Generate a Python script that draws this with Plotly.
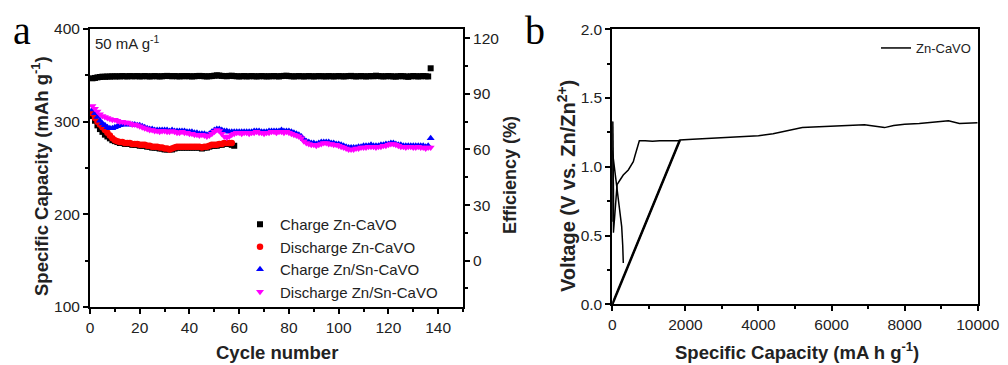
import plotly.graph_objects as go

# ---------------- Panel a data ----------------
cycles_charge_zn = list(range(1, 59))
charge_zn = [306, 301, 296, 292, 289, 286, 284, 282, 280, 279,
             278, 277, 277, 276, 276, 276, 275, 275, 275, 274,
             274, 274, 273, 273, 272, 272, 272, 271, 271, 270,
             270, 270, 270, 271, 272, 272, 272, 272, 272, 272,
             272, 272, 272, 272, 271, 272, 272, 273, 274, 274,
             274, 275, 275, 276, 276, 276, 275, 274]

cycles_discharge_zn = list(range(1, 58))
discharge_zn = [309, 304, 300, 297, 294, 291, 288, 285, 282, 280,
                279, 278, 278, 277, 277, 277, 276, 276, 276, 275,
                275, 275, 274, 274, 273, 273, 273, 272, 272, 271,
                271, 270, 271, 272, 273, 273, 273, 273, 273, 273,
                273, 273, 273, 273, 272, 273, 273, 274, 275, 275,
                275, 276, 276, 277, 277, 277, 277]

cycles_znsn = list(range(1, 138))
charge_znsn = [313, 309, 305, 301, 298, 296, 294, 293, 293, 294,
               295, 296, 297, 297, 297, 297, 297, 297, 296, 296,
               295, 294, 293, 292, 292, 291, 291, 291, 291, 291,
               291, 290, 291, 290, 290, 290, 290, 290, 289, 289,
               289, 288, 288, 287, 287, 287, 286, 287, 289, 291,
               292, 292, 291, 290, 290, 289, 289, 289, 289, 289,
               289, 289, 289, 289, 289, 290, 290, 290, 289, 289,
               289, 290, 290, 290, 290, 290, 291, 290, 290, 290,
               289, 288, 287, 286, 284, 281, 279, 278, 277, 277,
               276, 277, 278, 278, 278, 278, 277, 277, 276, 276,
               275, 274, 273, 272, 272, 272, 272, 273, 273, 274,
               274, 274, 275, 274, 274, 274, 275, 275, 276, 276,
               277, 277, 276, 275, 275, 274, 274, 274, 274, 274,
               274, 274, 274, 274, 273, 274, 282]

discharge_znsn = [317, 314, 311, 308, 306, 305, 304, 303, 302, 302,
                  301, 300, 300, 299, 299, 298, 297, 297, 296, 295,
                  294, 293, 292, 291, 291, 290, 290, 289, 290, 290,
                  289, 289, 290, 289, 288, 288, 289, 288, 288, 287,
                  287, 286, 286, 285, 286, 285, 284, 285, 287, 289,
                  291, 290, 287, 284, 283, 284, 286, 287, 288, 288,
                  287, 288, 288, 287, 288, 288, 289, 288, 288, 287,
                  288, 288, 289, 289, 288, 289, 289, 288, 289, 288,
                  287, 286, 285, 284, 282, 279, 277, 276, 275, 275,
                  274, 275, 276, 277, 277, 276, 276, 275, 275, 274,
                  273, 272, 271, 270, 270, 270, 271, 271, 272, 272,
                  272, 273, 273, 273, 272, 273, 273, 274, 274, 275,
                  276, 276, 275, 274, 273, 273, 272, 273, 273, 272,
                  272, 273, 272, 272, 271, 272, 272]

cycles_eff = list(range(1, 138))
efficiency = [98.4, 98.6, 98.9, 99.1, 99.3, 99.2, 99.4, 99.3, 99.5, 99.4,
              99.5, 99.4, 99.6, 99.5, 99.4, 99.6, 99.5, 99.5, 99.6, 99.4,
              99.5, 99.6, 99.5, 99.4, 99.5, 99.6, 99.5, 99.4, 99.5, 99.6,
              99.7, 99.6, 99.5, 99.6, 99.5, 99.4, 99.6, 99.5, 99.6, 99.5,
              99.4, 99.5, 99.6, 99.7, 99.6, 99.5, 99.4, 99.5, 99.6, 99.8,
              100.0, 99.9, 99.7, 99.6, 99.5, 99.7, 99.8, 99.6, 99.5, 99.4,
              99.5, 99.6, 99.4, 99.5, 99.6, 99.5, 99.4, 99.5, 99.6, 99.5,
              99.4, 99.5, 99.5, 99.6, 99.5, 99.4, 99.6, 99.7, 99.8, 99.6,
              99.5, 99.4, 99.5, 99.6, 99.5, 99.4, 99.5, 99.6, 99.5, 99.4,
              99.5, 99.6, 99.5, 99.5, 99.4, 99.6, 99.5, 99.4, 99.5, 99.6,
              99.5, 99.4, 99.5, 99.6, 99.7, 99.5, 99.4, 99.5, 99.6, 99.5,
              99.4, 99.5, 99.6, 99.5, 99.8, 99.6, 99.5, 99.4, 99.5, 99.6,
              99.5, 99.4, 99.3, 99.5, 99.6, 99.5, 99.4, 99.2, 99.5, 99.6,
              99.5, 99.4, 99.5, 99.6, 99.5, 99.4, 103.8]

# ---------------- Panel b data ----------------
cap_b = [0, 10, 18, 25, 30, 60, 100, 130, 211, 300, 438, 520, 575, 620, 667, 700, 740,
         900, 1100, 1300, 1500, 1700, 1850, None,
         0, 60, 120, 200, 257, 285, 301, None,
         0, 1850, 2200, 2600, 3000, 3400, 3700, 4000, 4400, 4700, 5000, 5200, 5500,
         6000, 6400, 6900, 7200, 7450, 7700, 8000, 8400, 8800, 9200, 9500, 9800, 10000]
volt_b = [1.33, 1.05, 0.80, 0.60, 0.52, 0.62, 0.80, 0.87, 0.904, 0.94, 0.977, 1.01, 1.037, 1.08, 1.122, 1.17, 1.19,
          1.19, 1.185, 1.19, 1.19, 1.185, 1.19, None,
          1.12, 0.98, 0.855, 0.70, 0.565, 0.43, 0.30, None,
          0.0, 1.195, 1.20, 1.205, 1.21, 1.215, 1.22, 1.225, 1.24, 1.255, 1.275, 1.285, 1.29,
          1.295, 1.30, 1.305, 1.295, 1.285, 1.30, 1.31, 1.315, 1.325, 1.335, 1.315, 1.32, 1.32]
cap_b_thick = [0, 10, 18, 25, None, 0, 1850]
volt_b_thick = [1.33, 1.05, 0.80, 0.60, None, 0.0, 1.195]

FONT = "Liberation Sans"
# page body has an 8 px margin; the figure is sized to fill the rest of the 1008x365 window
OFF = 8
W, H = 1008 - OFF, 365 - OFF


def px(xp):
    return (xp - OFF) / W


def py(yp):
    return 1 - (yp - OFF) / H


fig = go.Figure()

fig.add_trace(go.Scatter(x=cycles_charge_zn, y=charge_zn, mode="markers", name="Charge Zn-CaVO",
                         marker=dict(symbol="square", size=6, color="black"), xaxis="x", yaxis="y",
                         legend="legend"))
fig.add_trace(go.Scatter(x=cycles_discharge_zn, y=discharge_zn, mode="markers", name="Discharge Zn-CaVO",
                         marker=dict(symbol="circle", size=6.5, color="#ff0000"), xaxis="x", yaxis="y",
                         legend="legend"))
fig.add_trace(go.Scatter(x=cycles_znsn, y=charge_znsn, mode="markers", name="Charge Zn/Sn-CaVO",
                         marker=dict(symbol="triangle-up", size=7, color="#0000ff"), xaxis="x", yaxis="y",
                         legend="legend"))
fig.add_trace(go.Scatter(x=cycles_znsn, y=discharge_znsn, mode="markers", name="Discharge Zn/Sn-CaVO",
                         marker=dict(symbol="triangle-down", size=7, color="#ff00ff"), xaxis="x", yaxis="y",
                         legend="legend"))
fig.add_trace(go.Scatter(x=cycles_eff, y=efficiency, mode="markers", name="Efficiency",
                         marker=dict(symbol="square", size=6, color="black"), xaxis="x", yaxis="y2",
                         showlegend=False))

fig.add_trace(go.Scatter(x=cap_b, y=volt_b, mode="lines", name="Zn-CaVO",
                         line=dict(color="black", width=1.5), xaxis="x2", yaxis="y3",
                         legend="legend2", connectgaps=False))
fig.add_trace(go.Scatter(x=cap_b_thick, y=volt_b_thick, mode="lines", name="Zn-CaVO",
                         line=dict(color="black", width=2.5), xaxis="x2", yaxis="y3",
                         showlegend=False, connectgaps=False))

tickfont = dict(family=FONT, size=15.5, color="#222222")
axis_common = dict(showline=True, linecolor="black", linewidth=2, showgrid=False, zeroline=False,
                   ticks="outside", tickcolor="black", tickwidth=1.5, ticklen=5, tickfont=tickfont,
                   automargin=False)

fig.update_layout(
    template="none",
    width=W, height=H,
    margin=dict(l=0, r=0, t=0, b=0, pad=0),
    paper_bgcolor="white", plot_bgcolor="white",
    font=dict(family=FONT, color="#222222"),
    xaxis=dict(domain=[px(90), px(463)], range=[0, 150], dtick=20, anchor="y", mirror=True,
               minor=dict(ticks="outside", dtick=10, ticklen=3, tickcolor="black"), **axis_common),
    yaxis=dict(domain=[py(307), py(29)], range=[100, 400], dtick=100, anchor="x", mirror=True,
               minor=dict(ticks="outside", dtick=50, ticklen=3, tickcolor="black"), **axis_common),
    yaxis2=dict(overlaying="y", side="right", range=[-25, 125], tick0=0, dtick=30, anchor="x",
                minor=dict(ticks="outside", tick0=0, dtick=15, ticklen=3, tickcolor="black"), **axis_common),
    xaxis2=dict(domain=[px(612.3), px(977.7)], range=[0, 10000], dtick=2000, tickformat="d", anchor="y3",
                mirror=True, minor=dict(ticks="outside", dtick=1000, ticklen=3, tickcolor="black"),
                **axis_common),
    yaxis3=dict(domain=[py(304.3), py(29.3)], range=[0, 2.0], dtick=0.5, tickformat=".1f", anchor="x2",
                mirror=True, minor=dict(ticks="outside", dtick=0.25, ticklen=3, tickcolor="black"),
                **axis_common),
    legend=dict(x=px(240), y=py(208), xanchor="left", yanchor="top", bgcolor="rgba(0,0,0,0)",
                font=dict(family=FONT, size=15, color="#222222"), tracegroupgap=0, itemwidth=30),
    legend2=dict(x=px(876), y=py(48), xanchor="left", yanchor="middle", bgcolor="rgba(0,0,0,0)",
                 font=dict(family=FONT, size=13, color="#222222"), itemwidth=30),
)


def tfont(size):
    return dict(family=FONT, size=size, color="#222222", weight="bold")


def ann(text, x, y, font, xanchor="center", yanchor="middle", angle=0):
    return dict(text=text, x=px(x), y=py(y), xref="paper", yref="paper", showarrow=False,
                xanchor=xanchor, yanchor=yanchor, textangle=angle, font=font)


letter_font = dict(family="Liberation Serif", size=40, color="black")
annotations = [
    ann("a", 22, 31, letter_font),
    ann("b", 535, 31, letter_font),
    ann("50 mA g<sup>-1</sup>", 93, 43, dict(family=FONT, size=15, color="#222222"), xanchor="left"),
    ann("Specific Capacity (mAh g<sup>-1</sup>)", 40, 176, tfont(18.5), angle=-90),
    ann("Cycle number", 277, 352, tfont(18.5)),
    ann("Efficiency (%)", 510, 175, tfont(18), angle=-90),
    ann("Voltage (V vs. Zn/Zn<sup>2+</sup>)", 566, 186, tfont(20), angle=-90),
    ann("Specific Capacity (mA h g<sup>-1</sup>)", 797, 351, tfont(18.5)),
]
fig.update_layout(annotations=annotations)

fig.write_html("out.html")
